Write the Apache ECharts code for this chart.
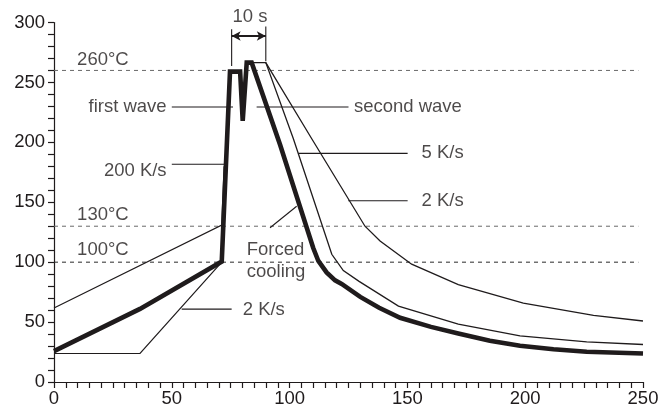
<!DOCTYPE html>
<html>
<head>
<meta charset="utf-8">
<script src="https://cdn.jsdelivr.net/npm/echarts@6/dist/echarts.min.js"></script>
<style>
  html, body { margin: 0; background: #fff; }
  #chart { width: 670px; height: 408px; }
</style>
</head>
<body>
<div id="chart"></div>
<script>
// axes
const xRange = [0, 250];
const xStep = 50;
const yRange = [0, 300];
const yStep = 50;

// main profile (forced cooling), [time s, temp °C]
const forcedCooling = [
  [0, 25.8], [36.5, 61], [71.2, 100.5], [74.7, 259], [79, 259], [80.1, 218],
  [81.8, 266.5], [83.9, 266.5], [96, 197.7], [110, 112], [112.2, 101],
  [115.7, 91.5], [119.3, 84.8], [122.1, 81.8], [130, 71], [138, 62],
  [146.9, 53.6], [160, 46], [171.6, 40.4], [185, 34.5], [197.8, 30.2],
  [212, 27.3], [226.1, 25.2], [250, 23.8]
];
// slower cooling curves after the second wave
const cool5 = [
  [83.9, 266.5], [89.9, 266.5], [101.6, 203], [117.9, 106.6], [122.8, 93],
  [129.5, 84], [146.2, 63.3], [171.6, 48.2], [197.8, 38.5], [226.1, 33.5], [250, 31.3]
];
const cool2 = [
  [89.9, 266.5], [109.4, 203], [132, 130], [138.4, 117.7], [146.9, 105.3],
  [151.8, 98.3], [171.6, 81.3], [199.2, 65.8], [229, 55.6], [250, 50.9]
];
// alternative preheat paths
const preheatHot = [[0, 61.7], [71.2, 131], [72.2, 180]];
const preheatSlow = [[0, 23.8], [36.5, 23.8], [71.2, 100]];

// dashed reference temperatures
const refLevels = [260, 130, 100];
const refEnd = 248;

// annotation texts and their pointers
const notes = [
  { text: '260°C', at: [9.8, 268.6], side: 'right' },
  { text: '130°C', at: [9.8, 139.5], side: 'right' },
  { text: '100°C', at: [9.8, 110.5], side: 'right' },
  { text: 'first wave', at: [47.8, 229.2], side: 'left' },
  { text: '200 K/s', at: [47.8, 176.2], side: 'left' },
  { text: 'second wave', at: [127.3, 229.2], side: 'right' },
  { text: '5 K/s', at: [156, 191.1], side: 'right' },
  { text: '2 K/s', at: [156, 151.4], side: 'right' },
  { text: 'Forced\ncooling', at: [81.8, 101], side: 'right' },
  { text: '2 K/s', at: [80.1, 60.3], side: 'right' },
  { text: '10 s', at: [83.2, 304.3], side: 'inside' }
];
const pointers = [
  [[50, 229.5], [76, 229.5]],
  [[86, 229.5], [125, 229.5]],
  [[50, 181.7], [72.6, 181.7]],
  [[103.7, 190.8], [150.1, 190.8]],
  [[124.9, 151.3], [150.1, 151.3]],
  [[91.7, 128.7], [103, 146.7]],
  [[54.2, 60.8], [75.4, 60.8]],
  [[75.4, 294.3], [75.4, 263.6]],
  [[89.9, 296.7], [89.9, 267.7]]
];
const spanArrow = [[75.4, 288.7], [89.9, 288.7]];

const FONT = '"Liberation Sans", Arial, Helvetica, sans-serif';
const INK = '#1f1b1c';
const FS = 18.5;

function curve(data, width, z) {
  return {
    type: 'line', data, symbol: 'none', silent: true, clip: false, z,
    lineStyle: { color: INK, width, join: 'miter' }
  };
}

const series = [];
refLevels.forEach((lv, i) => {
  series.push({
    type: 'line', data: [[xRange[0], lv], [refEnd, lv]], symbol: 'none', silent: true, z: 1,
    lineStyle: { color: i === 2 ? '#2a2a2a' : '#6a6a6a', width: 1, type: [4, 4] }
  });
});
pointers.forEach(p => series.push(curve(p, 1.1, 2)));
series.push(curve(preheatHot, 1.2, 3));
series.push(curve(preheatSlow, 1.2, 3));
series.push(curve(cool2, 1.3, 3));
series.push(curve(cool5, 1.3, 3));
series.push(curve(forcedCooling, 4.6, 4));
series.push({
  type: 'line', data: [], symbol: 'none', silent: true,
  markLine: {
    silent: true, animation: false,
    symbol: ['arrow', 'arrow'], symbolSize: [7, 9],
    label: { show: false },
    lineStyle: { color: INK, width: 2, type: 'solid' },
    data: [[{ coord: spanArrow[0] }, { coord: spanArrow[1] }]]
  }
});
series.push({
  type: 'scatter', symbolSize: 0, silent: true, clip: false, z: 5,
  data: notes.map(n => ({
    value: n.at,
    label: {
      show: true, formatter: n.text, position: n.side, distance: 0,
      color: INK, fontSize: FS, fontFamily: FONT, lineHeight: 22
    }
  }))
});

const chart = echarts.init(document.getElementById('chart'), null, { renderer: 'canvas' });
chart.setOption({
  animation: false,
  backgroundColor: '#fff',
  grid: { left: 54, right: 27, top: 22.5, bottom: 23 },
  xAxis: {
    type: 'value', min: xRange[0], max: xRange[1], interval: xStep,
    axisLine: { show: true, lineStyle: { color: INK, width: 1.2 } },
    axisTick: { show: true, length: 6, lineStyle: { color: INK, width: 1.2 } },
    minorTick: { show: true, splitNumber: 10, length: 6, lineStyle: { color: INK, width: 1.2 } },
    axisLabel: { color: INK, fontSize: FS, fontFamily: FONT, margin: 7 },
    splitLine: { show: false }
  },
  yAxis: {
    type: 'value', min: yRange[0], max: yRange[1], interval: yStep,
    axisLine: { show: true, lineStyle: { color: INK, width: 1.2 } },
    axisTick: { show: true, length: 6, lineStyle: { color: INK, width: 1.2 } },
    minorTick: { show: true, splitNumber: 5, length: 6, lineStyle: { color: INK, width: 1.2 } },
    axisLabel: { color: INK, fontSize: FS, fontFamily: FONT, margin: 9 },
    splitLine: { show: false }
  },
  series
});
</script>
</body>
</html>
